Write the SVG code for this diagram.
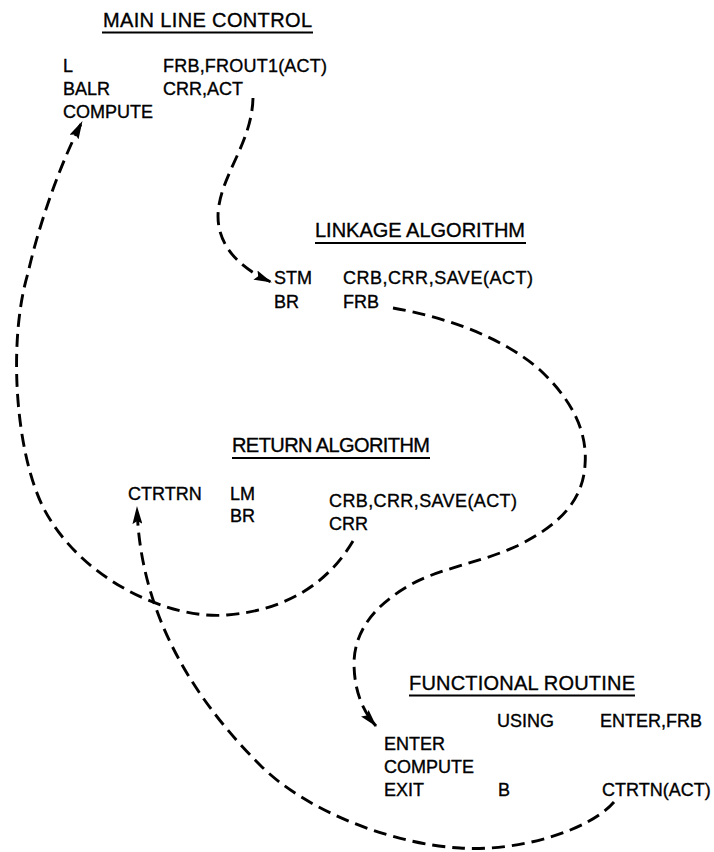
<svg xmlns="http://www.w3.org/2000/svg" width="714" height="852" viewBox="0 0 714 852">
<defs>
<style>
text{font-family:"Liberation Sans","DejaVu Sans",Arial,sans-serif;font-size:18px;fill:#000;stroke:#000;stroke-width:0.35}
.title{font-size:20px}
.ul{stroke:#000;stroke-width:1.8}
.conn{fill:none;stroke:#000;stroke-width:2.9;stroke-dasharray:13 7}
</style>
<marker id="arr" viewBox="0 0 18 10" refX="17" refY="5" markerWidth="18" markerHeight="10" markerUnits="userSpaceOnUse" orient="auto">
<path d="M0,0 L18,5 L0,10 L3,5 z" fill="#000"/>
</marker>
</defs>
<rect width="714" height="852" fill="#fff"/>
<g id="main-line-control">
<text class="title" x="103" y="27" textLength="209" lengthAdjust="spacing">MAIN LINE CONTROL</text>
<line class="ul" x1="102" y1="32.5" x2="313" y2="32.5"/>
<text x="63" y="72">L</text>
<text x="163" y="72" textLength="164" lengthAdjust="spacing">FRB,FROUT1(ACT)</text>
<text x="63" y="95">BALR</text>
<text x="163" y="95">CRR,ACT</text>
<text x="63" y="118">COMPUTE</text>
</g>
<g id="linkage-algorithm">
<text class="title" x="315" y="237" textLength="210" lengthAdjust="spacing">LINKAGE ALGORITHM</text>
<line class="ul" x1="315" y1="243" x2="526" y2="243"/>
<text x="274" y="284">STM</text>
<text x="343" y="284" textLength="190" lengthAdjust="spacing">CRB,CRR,SAVE(ACT)</text>
<text x="274" y="308">BR</text>
<text x="343" y="308">FRB</text>
</g>
<g id="return-algorithm">
<text class="title" x="232" y="452" textLength="198" lengthAdjust="spacing">RETURN ALGORITHM</text>
<line class="ul" x1="232" y1="458" x2="430" y2="458"/>
<text x="128" y="500">CTRTRN</text>
<text x="230" y="500">LM</text>
<text x="230" y="522">BR</text>
<text x="329" y="507" textLength="188" lengthAdjust="spacing">CRB,CRR,SAVE(ACT)</text>
<text x="329" y="530">CRR</text>
</g>
<g id="functional-routine">
<text class="title" x="409" y="690" textLength="226" lengthAdjust="spacing">FUNCTIONAL ROUTINE</text>
<line class="ul" x1="409" y1="695.5" x2="635" y2="695.5"/>
<text x="497" y="727">USING</text>
<text x="600" y="727">ENTER,FRB</text>
<text x="384" y="750">ENTER</text>
<text x="384" y="773">COMPUTE</text>
<text x="384" y="796">EXIT</text>
<text x="498" y="796">B</text>
<text x="602" y="796">CTRTN(ACT)</text>
</g>
<g id="connectors">
<path class="conn" marker-end="url(#arr)" d="M253,98 C252,140 225,170 219,205 C213,240 235,266 271,282"/>
<path class="conn" marker-end="url(#arr)" d="M393,308 C440,316 500,335 540,370 C570,398 588,430 585,465 C583,500 560,525 517,546 C480,563 440,568 410,585 C375,605 355,630 354,662 C354,690 362,710 376,726"/>
<path class="conn" marker-end="url(#arr)" d="M353,541 C330,580 290,610 227,615 C170,620 80,580 43,507 C15,450 8,340 28,273 C40,220 62,160 82,122"/>
<path class="conn" marker-end="url(#arr)" d="M614,802 C590,830 520,852 460,848 C400,845 310,815 260,765 C200,705 140,620 137,507"/>
</g>
</svg>
